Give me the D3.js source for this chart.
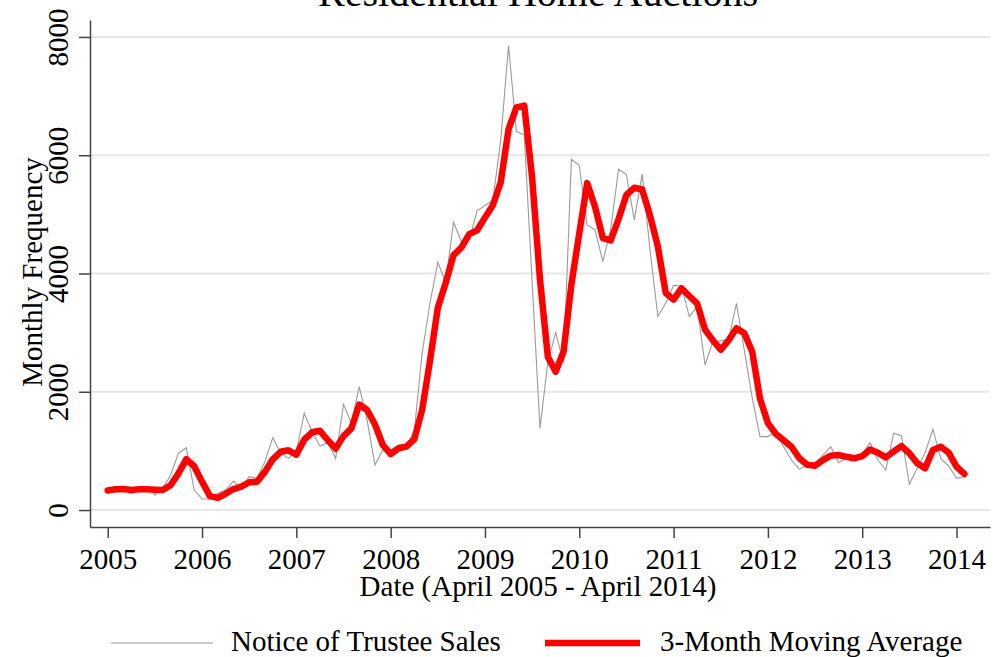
<!DOCTYPE html>
<html>
<head>
<meta charset="utf-8">
<script src="https://cdn.jsdelivr.net/npm/d3@7"></script>
<style>
  body { margin: 0; background: #fff; }
  svg { display: block; font-family: "Liberation Serif", "Times New Roman", serif; }
</style>
</head>
<body>
<svg width="999" height="657"></svg>
<script>
// monthly series, first point at 2005 on the axis
const startYear = 2005;
const trusteeSales = [
  326, 367, 367, 282, 394, 394, 254, 367, 592, 959,
  1054, 338, 186, 186, 282, 338, 490, 367, 564, 536,
  818, 1224, 959, 874, 987, 1636, 1325, 1083, 1139, 874,
  1788, 1467, 2086, 1523, 761, 1015, 1015, 1100, 1100, 1325,
  2651, 3497, 4191, 3853, 4868, 4540, 4569, 5059, 5149, 5234,
  6250, 7851, 6401, 6345, 3860, 1382, 2500, 3000, 2482, 5934,
  5826, 4822, 4738, 4202, 4750, 5764, 5668, 4907, 5685, 4400,
  3271, 3500, 3800, 3790, 3271, 3440, 2453, 2848, 2860, 2888,
  3497, 2700, 1900, 1241, 1241, 1325, 1071, 846, 688, 778,
  778, 930, 1071, 800, 874, 913, 942, 1139, 846, 677,
  1297, 1252, 440, 705, 970, 1365, 874, 744, 536, 564
];
const movingAvg = [
  330, 350, 355, 340, 350, 350, 345, 340, 420, 620,
  860, 740, 480, 235, 205, 275, 355, 395, 470, 480,
  645, 858, 985, 1010, 935, 1190, 1315, 1340, 1180, 1040,
  1250, 1380, 1785, 1692, 1450, 1100, 945, 1044, 1072, 1195,
  1692, 2520, 3420, 3840, 4310, 4440, 4665, 4730, 4945, 5155,
  5540, 6440, 6810, 6840, 5620, 3900, 2590, 2340, 2680, 3820,
  4680, 5528, 5130, 4600, 4560, 4920, 5330, 5450, 5420, 4980,
  4455, 3670, 3560, 3750, 3620, 3490, 3050, 2870, 2710, 2870,
  3075, 2990, 2680, 1880, 1470, 1290, 1180, 1070, 875, 765,
  750, 845, 920, 930, 900, 875, 910, 1025, 970, 890,
  990, 1080, 960, 790, 705, 1015, 1070, 970, 735, 610
];
const yearTicks = [2005, 2006, 2007, 2008, 2009, 2010, 2011, 2012, 2013, 2014];
const valueTicks = [0, 2000, 4000, 6000, 8000];
const seriesNames = ["Notice of Trustee Sales", "3-Month Moving Average"];

const svg = d3.select("svg");

const x = d3.scaleLinear().domain([2004.812, 2014.355]).range([90, 990]);
const y = d3.scaleLinear().domain([-287, 8287]).range([527, 20]);

const t = i => startYear + i / 12;

// grid
svg.append("g")
  .selectAll("line")
  .data(valueTicks)
  .join("line")
  .attr("x1", 90).attr("x2", 990)
  .attr("y1", d => y(d)).attr("y2", d => y(d))
  .attr("stroke", "#e6e6e6")
  .attr("stroke-width", 2);

// y axis
const yAxis = svg.append("g")
  .attr("transform", "translate(90,0)")
  .call(d3.axisLeft(y).tickValues(valueTicks).tickSize(11).tickSizeOuter(0).tickFormat(d3.format("d")));
yAxis.select(".domain").attr("stroke", "#444").attr("stroke-width", 1.5);
yAxis.selectAll(".tick line").attr("stroke", "#444").attr("stroke-width", 1.5);
yAxis.selectAll(".tick text")
  .attr("transform", "rotate(-90)")
  .attr("x", 0).attr("y", -22).attr("dy", 0)
  .attr("text-anchor", "middle")
  .attr("font-family", "Liberation Serif")
  .attr("font-size", 29)
  .attr("fill", "#000");

// x axis
const xAxis = svg.append("g")
  .attr("transform", "translate(0,527)")
  .call(d3.axisBottom(x).tickValues(yearTicks).tickSize(11).tickSizeOuter(0).tickFormat(d3.format("d")));
xAxis.select(".domain").attr("stroke", "#444").attr("stroke-width", 1.5);
xAxis.selectAll(".tick line").attr("stroke", "#444").attr("stroke-width", 1.5);
xAxis.selectAll(".tick text")
  .attr("y", 42).attr("dy", 0)
  .attr("font-family", "Liberation Serif")
  .attr("font-size", 29)
  .attr("fill", "#000");

// lines
const line = d3.line().x((d, i) => x(t(i))).y(d => y(d));

svg.append("path")
  .datum(trusteeSales)
  .attr("d", line)
  .attr("fill", "none")
  .attr("stroke", "#9a9a9a")
  .attr("stroke-width", 1.1);

svg.append("path")
  .datum(movingAvg)
  .attr("d", line)
  .attr("fill", "none")
  .attr("stroke", "#ff0000")
  .attr("stroke-width", 6.5)
  .attr("stroke-linejoin", "round")
  .attr("stroke-linecap", "round");

// titles
svg.append("text")
  .attr("x", 538).attr("y", 6)
  .attr("text-anchor", "middle")
  .attr("font-size", 40)
  .text("Residential Home Auctions");

svg.append("text")
  .attr("x", 538).attr("y", 596)
  .attr("text-anchor", "middle")
  .attr("font-size", 29)
  .text("Date (April 2005 - April 2014)");

svg.append("text")
  .attr("transform", "translate(42,272) rotate(-90)")
  .attr("text-anchor", "middle")
  .attr("font-size", 29)
  .text("Monthly Frequency");

// legend
const legend = svg.append("g");
legend.append("line")
  .attr("x1", 111).attr("x2", 213).attr("y1", 643).attr("y2", 643)
  .attr("stroke", "#9a9a9a").attr("stroke-width", 1.1);
legend.append("text")
  .attr("x", 231).attr("y", 651)
  .attr("font-size", 29)
  .text(seriesNames[0]);
legend.append("line")
  .attr("x1", 545).attr("x2", 640).attr("y1", 643).attr("y2", 643)
  .attr("stroke", "#ff0000").attr("stroke-width", 6.5);
legend.append("text")
  .attr("x", 660).attr("y", 651)
  .attr("font-size", 29)
  .text(seriesNames[1]);
</script>
</body>
</html>
